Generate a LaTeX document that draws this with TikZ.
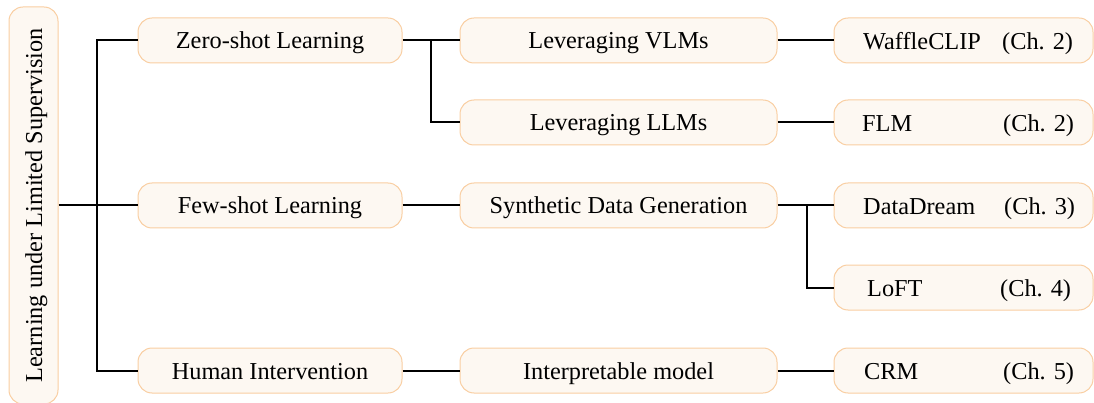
\documentclass[tikz,border=0pt]{standalone}
\usepackage{fontspec}
\setmainfont{Liberation Serif}
\definecolor{boxfill}{RGB}{253,248,242}
\definecolor{boxline}{RGB}{249,206,162}
\begin{document}
\begin{tikzpicture}[x=1pt,y=-1pt,
  txt/.style={font=\fontsize{24.3}{29}\selectfont, text height=17pt, text depth=0pt},
  box/.style={txt, draw=boxline, fill=boxfill, line width=1pt, rounded corners=14pt,
    inner sep=0pt, minimum height=45pt},
  lvlone/.style={box, minimum width=264pt},
  lvltwo/.style={box, minimum width=317pt},
  lvlthree/.style={box, minimum width=259pt},
  lbl/.style={txt, inner sep=0pt, anchor=west},
  link/.style={line width=2pt, black}]
\useasboundingbox (0,0) rectangle (1094,403);

% root
\node[box, rotate=90, minimum width=397pt, minimum height=49pt] (root) at (33.5,205.5)
  {Learning under Limited Supervision};

% first level
\node[lvlone] (zero)  at (270,40.5)  {Zero-shot Learning};
\node[lvlone] (few)   at (270,205.5) {Few-shot Learning};
\node[lvlone] (human) at (270,370.5) {Human Intervention};

% second level
\node[lvltwo] (vlm)    at (618.5,40.5)  {Leveraging VLMs};
\node[lvltwo] (llm)    at (618.5,122.5) {Leveraging LLMs};
\node[lvltwo] (synth)  at (618.5,205.5) {Synthetic Data Generation};
\node[lvltwo] (interp) at (618.5,370.5) {Interpretable model};

% third level
\node[lvlthree] (waffle) at (963.5,40.5)  {};
\node[lvlthree] (flm)    at (963.5,122.5) {};
\node[lvlthree] (dd)     at (963.5,205.5) {};
\node[lvlthree] (loft)   at (963.5,287.5) {};
\node[lvlthree] (crm)    at (963.5,370.5) {};

\node[lbl] (waffleT) at (863,41)  {WaffleCLIP};
\node[lbl] (waffleC) at (1002,41) {(Ch. 2)};
\node[lbl] (flmT)    at (862,123) {FLM};
\node[lbl] (flmC)    at (1003,123) {(Ch. 2)};
\node[lbl] (ddT)     at (863,206) {DataDream};
\node[lbl] (ddC)     at (1004,206) {(Ch. 3)};
\node[lbl] (loftT)   at (867,288) {LoFT};
\node[lbl] (loftC)   at (1000,288) {(Ch. 4)};
\node[lbl] (crmT)    at (864,371) {CRM};
\node[lbl] (crmC)    at (1003,371) {(Ch. 5)};

% connectors
\coordinate (trunk)  at (97,205.5);
\coordinate (zsplit) at (431,40.5);
\coordinate (ssplit) at (807,205.5);

\draw[link] (root.south) -- (few.west);
\draw[link] (zero.west) -| (trunk) |- (human.west);

\draw[link] (zero.east) -- (vlm.west);
\draw[link] (zsplit) |- (llm.west);
\draw[link] (few.east) -- (synth.west);
\draw[link] (human.east) -- (interp.west);

\draw[link] (vlm.east) -- (waffle.west);
\draw[link] (llm.east) -- (flm.west);
\draw[link] (synth.east) -- (dd.west);
\draw[link] (ssplit) |- (loft.west);
\draw[link] (interp.east) -- (crm.west);
\end{tikzpicture}
\end{document}
